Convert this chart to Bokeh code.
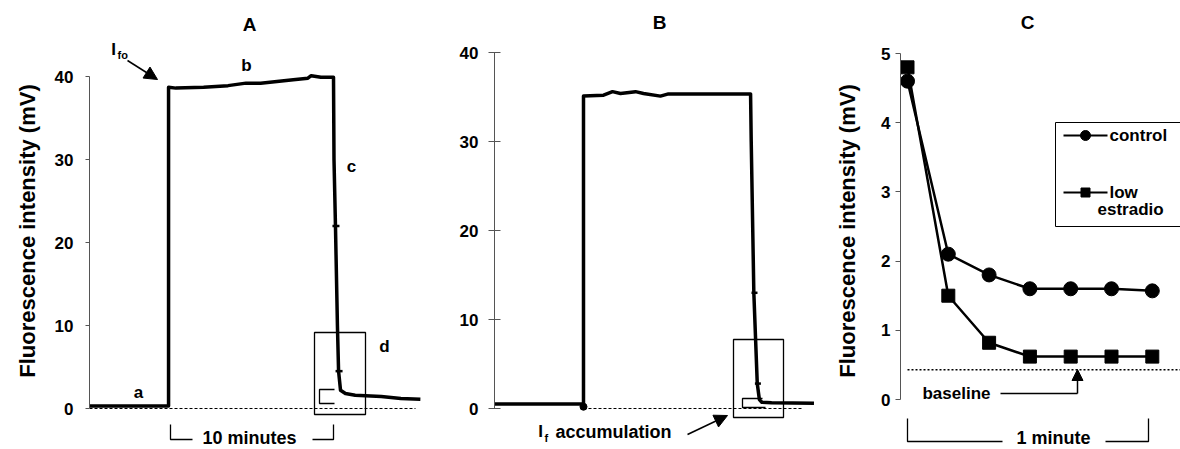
from bokeh.plotting import figure
from bokeh.layouts import row
from bokeh.models import Range1d, FixedTicker, Arrow, NormalHead
from bokeh.core.properties import value
from bokeh.embed import file_html
from bokeh.resources import INLINE

# ---------------- data ----------------
# Panel A: fluorescence trace (time in minutes, intensity in mV)
a_time = [0, 4.85, 4.85, 5.3, 7.0, 8.5, 9.6, 10.5, 11.5, 12.5, 13.4, 13.6, 14.2, 14.97,
          15.0, 15.09, 15.21, 15.28, 15.4, 15.7, 16.3, 17.9, 19.1, 20.3]
a_mv = [0.3, 0.3, 38.7, 38.6, 38.7, 38.9, 39.2, 39.2, 39.4, 39.6, 39.8, 40.1, 39.9, 39.9,
        30.0, 22.0, 10.0, 4.5, 2.2, 1.8, 1.6, 1.45, 1.2, 1.1]
a_mark_time = [15.12, 15.31]
a_mark_mv = [22.0, 4.5]
a_zero_time = [0, 20.0]

# Panel B: fluorescence trace
b_time = [0, 5.46, 5.46, 6.69, 7.24, 7.73, 8.65, 9.14, 10.18, 10.67, 15.71,
          15.75, 15.91, 16.12, 16.25, 16.4, 17.0, 19.6]
b_mv = [0.5, 0.5, 35.1, 35.2, 35.6, 35.4, 35.6, 35.4, 35.1, 35.35, 35.35,
        30.0, 13.0, 2.8, 1.0, 0.7, 0.65, 0.6]
b_mark_time = [5.46, 15.95, 16.16]
b_mark_mv = [0.2, 13.0, 2.8]
b_zero_time = [5.46, 18.9]

# Panel C: points, one per step
c_step = [0, 1, 2, 3, 4, 5, 6]
c_control = [4.6, 2.1, 1.8, 1.6, 1.6, 1.6, 1.57]
c_low = [4.8, 1.5, 0.82, 0.62, 0.62, 0.62, 0.62]
c_baseline = 0.43

ab_ticks = [0, 10, 20, 30, 40]
c_ticks = [0, 1, 2, 3, 4, 5]

FONT = "Liberation Sans"
YLABEL = "Fluorescence intensity (mV)"
TOP = 12  # frame top (page pixels)

# pixel -> data helpers for annotations (page pixel coords)
def ax(px): return (px - 89) / 16.3
def ay(py): return (408 - py) / 8.3
def bx(px): return (px - 494) / 16.3
def by(py): return (408 - py) / 8.9
def cx(px): return (px - 907) / 40.8
def cy(py): return (399 - py) / 69.2


def txt(p, x, y, s, size, align="center", baseline="middle"):
    p.text(x=[x], y=[y], text=[s], text_font=value(FONT), text_font_size=f"{size}px",
           text_font_style="bold", text_align=align, text_baseline=baseline, text_color="black")


def style_axis(a, ticks, tin, tout, standoff):
    a.ticker = FixedTicker(ticks=ticks)
    a.bounds = (ticks[0], ticks[-1])
    a.minor_tick_line_color = None
    a.major_tick_in = tin
    a.major_tick_out = tout
    a.major_label_standoff = standoff
    a.major_label_text_font = FONT
    a.major_label_text_font_size = "17px"
    a.major_label_text_font_style = "bold"
    a.major_label_text_color = "black"
    a.axis_line_color = "#555555"
    a.major_tick_line_color = "#555555"
    a.axis_line_width = 1
    a.axis_label_text_font = FONT
    a.axis_label_text_font_size = "22px"
    a.axis_label_text_font_style = "bold"
    a.axis_label_text_color = "black"


def make_fig(w, left, xr, yr):
    p = figure(width=w, height=449, x_range=xr, y_range=yr, output_backend="svg",
               toolbar_location=None, x_axis_location=None, y_axis_location="left",
               min_border_left=left, min_border_right=0, min_border_top=TOP,
               min_border_bottom=0, outline_line_color=None)
    p.xgrid.visible = False
    p.ygrid.visible = False
    p.background_fill_color = "white"
    p.border_fill_color = "white"
    return p


def bracket(p, xs, ys):
    p.line(xs, ys, line_color="black", line_width=1.3)


def arrow(p, x0, y0, x1, y1, size=13):
    p.add_layout(Arrow(end=NormalHead(size=size, fill_color="black", line_color="black"),
                       x_start=x0, y_start=y0, x_end=x1, y_end=y1,
                       line_width=1.5, line_color="black"))

# ---------------- panel A ----------------
pA = make_fig(440, 89, Range1d(ax(89), ax(440)), Range1d(ay(449), ay(TOP)))
style_axis(pA.yaxis[0], ab_ticks, 0, 4, 12)
pA.yaxis[0].axis_label = YLABEL
pA.yaxis[0].axis_label_standoff = 12
pA.line(a_zero_time, [0, 0], line_color="black", line_width=1, line_dash="3 2")
pA.line(a_time, a_mv, line_color="black", line_width=3.5, line_join="round")
pA.scatter(a_mark_time, a_mark_mv, marker="dash", size=7, line_color="black", line_width=2.5)
pA.quad(left=[ax(314)], right=[ax(365)], bottom=[ay(414)], top=[ay(332)],
        fill_color=None, line_color="black", line_width=1.3)
bracket(pA, [ax(334), ax(319), ax(319), ax(334)], [ay(389), ay(389), ay(403), ay(403)])
txt(pA, ax(249), ay(24), "A", 19)
txt(pA, ax(138), ay(392), "a", 17)
txt(pA, ax(246), ay(65), "b", 17)
txt(pA, ax(351), ay(166), "c", 17)
txt(pA, ax(384), ay(346), "d", 17)
txt(pA, ax(113), ay(49), "I", 17)
txt(pA, ax(117), ay(54), "fo", 11, align="left")
arrow(pA, ax(127), ay(60), ax(157), ay(79))
# 10 minutes bracket
bracket(pA, [ax(170), ax(170), ax(192)], [ay(424), ay(439), ay(439)])
bracket(pA, [ax(312), ax(333), ax(333)], [ay(439), ay(439), ay(424)])
txt(pA, ax(249), ay(437), "10 minutes", 18)

# ---------------- panel B ----------------
pB = make_fig(380, 54, Range1d(bx(494), bx(820)), Range1d(by(449), by(TOP)))
style_axis(pB.yaxis[0], ab_ticks, 6, 6, 10)
pB.line(b_zero_time, [0, 0], line_color="black", line_width=1, line_dash="3 2")
pB.line(b_time, b_mv, line_color="black", line_width=3.5, line_join="round")
pB.scatter(b_mark_time[:1], b_mark_mv[:1], marker="circle", size=7, color="black")
pB.scatter(b_mark_time[1:], b_mark_mv[1:], marker="dash", size=6, line_color="black", line_width=2.5)
pB.quad(left=[bx(733)], right=[bx(783)], bottom=[by(417)], top=[by(339)],
        fill_color=None, line_color="black", line_width=1.3)
bracket(pB, [bx(762), bx(742), bx(742), bx(765)], [by(398), by(398), by(407), by(407)])
txt(pB, bx(659), by(22), "B", 19)
txt(pB, bx(540), by(431), "I", 17)
txt(pB, bx(544), by(437), "f", 11, align="left")
txt(pB, bx(555), by(431), "accumulation", 18, align="left")
arrow(pB, bx(687), by(434), bx(727), by(415))

# ---------------- panel C ----------------
pC = make_fig(360, 80, Range1d(cx(900), cx(1180)), Range1d(cy(449), cy(TOP)))
style_axis(pC.yaxis[0], c_ticks, 0, 5, 5)
pC.yaxis[0].axis_label = YLABEL
pC.yaxis[0].axis_label_standoff = 18
pC.line([c_step[0], cx(1180)], [c_baseline, c_baseline], line_color="black",
        line_width=1.5, line_dash="2 2")
pC.line(c_step, c_control, line_color="black", line_width=2.5)
pC.line(c_step, c_low, line_color="black", line_width=2.5)
pC.scatter(c_step, c_control, marker="circle", size=14, color="black")
pC.scatter(c_step, c_low, marker="square", size=13, color="black")
txt(pC, cx(1027), cy(22), "C", 19)
# legend
pC.quad(left=[cx(1055)], right=[cx(1200)], bottom=[cy(226)], top=[cy(122)],
        fill_color=None, line_color="black", line_width=1)
pC.line([cx(1063), cx(1107)], [cy(135), cy(135)], line_color="black", line_width=2)
pC.scatter([cx(1085)], [cy(135)], marker="circle", size=10, color="black")
txt(pC, cx(1109), cy(135), "control", 17, align="left")
pC.line([cx(1063), cx(1107)], [cy(192), cy(192)], line_color="black", line_width=2)
pC.scatter([cx(1085)], [cy(192)], marker="square", size=9, color="black")
txt(pC, cx(1109), cy(192), "low", 17, align="left")
txt(pC, cx(1097), cy(209), "estradio", 17, align="left")
# baseline annotation
txt(pC, cx(956), cy(393), "baseline", 17)
pC.line([cx(1000), cx(1077)], [cy(393), cy(393)], line_color="black", line_width=1.5)
arrow(pC, cx(1077), cy(393), cx(1077), cy(369), size=11)
# 1 minute bracket
bracket(pC, [cx(907), cx(907), cx(1002)], [cy(418), cy(441), cy(441)])
bracket(pC, [cx(1105), cx(1148), cx(1148)], [cy(441), cy(441), cy(418)])
txt(pC, cx(1053), cy(437), "1 minute", 18)

layout = row(pA, pB, pC, spacing=0)
open("out.html", "w").write(file_html(layout, INLINE))
